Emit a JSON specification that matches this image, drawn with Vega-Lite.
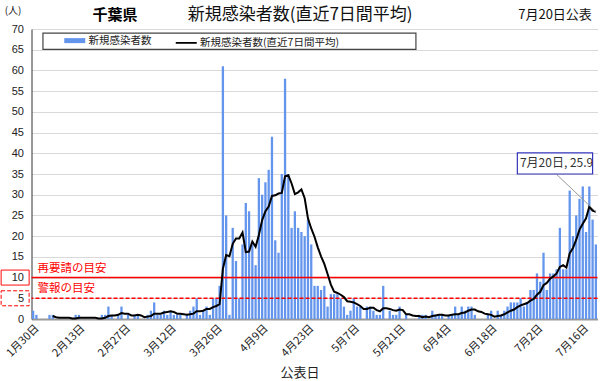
{
"$schema":"https://vega.github.io/schema/vega-lite/v6.json",
"width":566,"height":290,
"autosize":{"type":"none"},
"padding":{"left":31.5,"top":29,"right":2.5,"bottom":62},
"background":"white",
"config":{"view":{"stroke":null},"font":"Noto Sans CJK JP",
 "axisY":{"ticks":false,"labelPadding":8,"labelOverlap":false,"labelFontSize":11,"labelFont":"Liberation Sans","labelColor":"#222","domainColor":"#333","gridColor":"#d9d9d9","gridWidth":1,"titleAngle":0,"titleX":-19,"titleY":-19,"titleFontSize":10,"titleFontWeight":"normal","titleColor":"#222","titleAlign":"center","titleBaseline":"middle"}},
"datasets":{
"main":[
{"date":"1月30日","cases":2,"avg":null},{"date":"1月31日","cases":1,"avg":null},
{"date":"2月1日","cases":0,"avg":null},{"date":"2月2日","cases":0,"avg":null},{"date":"2月3日","cases":0,"avg":null},{"date":"2月4日","cases":1,"avg":null},{"date":"2月5日","cases":1,"avg":0.71},{"date":"2月6日","cases":0,"avg":0.43},{"date":"2月7日","cases":0,"avg":0.29},{"date":"2月8日","cases":0,"avg":0.29},{"date":"2月9日","cases":0,"avg":0.29},{"date":"2月10日","cases":0,"avg":0.29},{"date":"2月11日","cases":0,"avg":0.14},{"date":"2月12日","cases":1,"avg":0.14},{"date":"2月13日","cases":1,"avg":0.29},{"date":"2月14日","cases":0,"avg":0.29},{"date":"2月15日","cases":0,"avg":0.29},{"date":"2月16日","cases":0,"avg":0.29},{"date":"2月17日","cases":0,"avg":0.29},{"date":"2月18日","cases":0,"avg":0.29},{"date":"2月19日","cases":0,"avg":0.14},{"date":"2月20日","cases":1,"avg":0.14},{"date":"2月21日","cases":1,"avg":0.29},{"date":"2月22日","cases":3,"avg":0.71},{"date":"2月23日","cases":1,"avg":0.86},{"date":"2月24日","cases":0,"avg":0.86},{"date":"2月25日","cases":1,"avg":1.0},{"date":"2月26日","cases":3,"avg":1.43},{"date":"2月27日","cases":0,"avg":1.29},{"date":"2月28日","cases":1,"avg":1.29},{"date":"2月29日","cases":0,"avg":0.86},
{"date":"3月1日","cases":1,"avg":0.86},{"date":"3月2日","cases":1,"avg":1.0},{"date":"3月3日","cases":0,"avg":0.86},{"date":"3月4日","cases":0,"avg":0.43},{"date":"3月5日","cases":1,"avg":0.57},{"date":"3月6日","cases":2,"avg":0.71},{"date":"3月7日","cases":4,"avg":1.29},{"date":"3月8日","cases":1,"avg":1.29},{"date":"3月9日","cases":1,"avg":1.29},{"date":"3月10日","cases":2,"avg":1.57},{"date":"3月11日","cases":1,"avg":1.71},{"date":"3月12日","cases":2,"avg":1.86},{"date":"3月13日","cases":1,"avg":1.71},{"date":"3月14日","cases":1,"avg":1.29},{"date":"3月15日","cases":1,"avg":1.29},{"date":"3月16日","cases":0,"avg":1.14},{"date":"3月17日","cases":1,"avg":1.0},{"date":"3月18日","cases":2,"avg":1.14},{"date":"3月19日","cases":3,"avg":1.29},{"date":"3月20日","cases":5,"avg":1.86},{"date":"3月21日","cases":1,"avg":1.86},{"date":"3月22日","cases":2,"avg":2.0},{"date":"3月23日","cases":3,"avg":2.43},{"date":"3月24日","cases":1,"avg":2.43},{"date":"3月25日","cases":5,"avg":2.86},{"date":"3月26日","cases":5,"avg":3.14},{"date":"3月27日","cases":8,"avg":3.57},{"date":"3月28日","cases":61,"avg":12.14},{"date":"3月29日","cases":25,"avg":15.43},{"date":"3月30日","cases":1,"avg":15.14},{"date":"3月31日","cases":22,"avg":18.14},
{"date":"4月1日","cases":14,"avg":19.43},{"date":"4月2日","cases":5,"avg":19.43},{"date":"4月3日","cases":18,"avg":20.86},{"date":"4月4日","cases":28,"avg":16.14},{"date":"4月5日","cases":26,"avg":16.29},{"date":"4月6日","cases":18,"avg":18.71},{"date":"4月7日","cases":13,"avg":17.43},{"date":"4月8日","cases":34,"avg":20.29},{"date":"4月9日","cases":30,"avg":23.86},{"date":"4月10日","cases":33,"avg":26.0},{"date":"4月11日","cases":36,"avg":27.14},{"date":"4月12日","cases":44,"avg":29.71},{"date":"4月13日","cases":19,"avg":29.86},{"date":"4月14日","cases":16,"avg":30.29},{"date":"4月15日","cases":35,"avg":30.43},{"date":"4月16日","cases":58,"avg":34.43},{"date":"4月17日","cases":35,"avg":34.71},{"date":"4月18日","cases":22,"avg":32.71},{"date":"4月19日","cases":26,"avg":30.14},{"date":"4月20日","cases":22,"avg":30.57},{"date":"4月21日","cases":21,"avg":31.29},{"date":"4月22日","cases":20,"avg":29.14},{"date":"4月23日","cases":24,"avg":24.29},{"date":"4月24日","cases":18,"avg":21.86},{"date":"4月25日","cases":8,"avg":19.86},{"date":"4月26日","cases":8,"avg":17.29},{"date":"4月27日","cases":7,"avg":15.14},{"date":"4月28日","cases":8,"avg":13.29},{"date":"4月29日","cases":3,"avg":10.86},{"date":"4月30日","cases":6,"avg":8.29},
{"date":"5月1日","cases":6,"avg":6.57},{"date":"5月2日","cases":6,"avg":6.29},{"date":"5月3日","cases":5,"avg":5.86},{"date":"5月4日","cases":3,"avg":5.29},{"date":"5月5日","cases":1,"avg":4.29},{"date":"5月6日","cases":2,"avg":4.14},{"date":"5月7日","cases":5,"avg":4.0},{"date":"5月8日","cases":3,"avg":3.57},{"date":"5月9日","cases":3,"avg":3.14},{"date":"5月10日","cases":0,"avg":2.43},{"date":"5月11日","cases":3,"avg":2.43},{"date":"5月12日","cases":3,"avg":2.71},{"date":"5月13日","cases":2,"avg":2.71},{"date":"5月14日","cases":1,"avg":2.14},{"date":"5月15日","cases":1,"avg":1.86},{"date":"5月16日","cases":8,"avg":2.57},{"date":"5月17日","cases":0,"avg":2.57},{"date":"5月18日","cases":2,"avg":2.43},{"date":"5月19日","cases":1,"avg":2.14},{"date":"5月20日","cases":1,"avg":2.0},{"date":"5月21日","cases":3,"avg":2.29},{"date":"5月22日","cases":0,"avg":2.14},{"date":"5月23日","cases":1,"avg":1.14},{"date":"5月24日","cases":0,"avg":1.14},{"date":"5月25日","cases":0,"avg":0.86},{"date":"5月26日","cases":0,"avg":0.71},{"date":"5月27日","cases":1,"avg":0.71},{"date":"5月28日","cases":1,"avg":0.43},{"date":"5月29日","cases":1,"avg":0.57},{"date":"5月30日","cases":0,"avg":0.43},{"date":"5月31日","cases":2,"avg":0.71},
{"date":"6月1日","cases":1,"avg":0.86},{"date":"6月2日","cases":1,"avg":1.0},{"date":"6月3日","cases":1,"avg":1.0},{"date":"6月4日","cases":0,"avg":0.86},{"date":"6月5日","cases":1,"avg":0.86},{"date":"6月6日","cases":1,"avg":1.0},{"date":"6月7日","cases":3,"avg":1.14},{"date":"6月8日","cases":1,"avg":1.14},{"date":"6月9日","cases":3,"avg":1.43},{"date":"6月10日","cases":2,"avg":1.57},{"date":"6月11日","cases":3,"avg":2.0},{"date":"6月12日","cases":3,"avg":2.29},{"date":"6月13日","cases":1,"avg":2.29},{"date":"6月14日","cases":0,"avg":1.86},{"date":"6月15日","cases":0,"avg":1.71},{"date":"6月16日","cases":0,"avg":1.29},{"date":"6月17日","cases":1,"avg":1.14},{"date":"6月18日","cases":2,"avg":1.0},{"date":"6月19日","cases":0,"avg":0.57},{"date":"6月20日","cases":2,"avg":0.71},{"date":"6月21日","cases":1,"avg":0.86},{"date":"6月22日","cases":2,"avg":1.14},{"date":"6月23日","cases":3,"avg":1.57},{"date":"6月24日","cases":4,"avg":2.0},{"date":"6月25日","cases":4,"avg":2.29},{"date":"6月26日","cases":4,"avg":2.86},{"date":"6月27日","cases":5,"avg":3.29},{"date":"6月28日","cases":3,"avg":3.57},{"date":"6月29日","cases":4,"avg":3.86},{"date":"6月30日","cases":7,"avg":4.43},
{"date":"7月1日","cases":7,"avg":4.86},{"date":"7月2日","cases":11,"avg":5.86},{"date":"7月3日","cases":9,"avg":6.57},{"date":"7月4日","cases":16,"avg":8.14},{"date":"7月5日","cases":7,"avg":8.71},{"date":"7月6日","cases":11,"avg":9.71},{"date":"7月7日","cases":11,"avg":10.29},{"date":"7月8日","cases":12,"avg":11.0},{"date":"7月9日","cases":22,"avg":12.57},{"date":"7月10日","cases":12,"avg":13.0},{"date":"7月11日","cases":12,"avg":12.43},{"date":"7月12日","cases":31,"avg":15.86},{"date":"7月13日","cases":20,"avg":17.14},{"date":"7月14日","cases":25,"avg":19.14},{"date":"7月15日","cases":29,"avg":21.57},{"date":"7月16日","cases":32,"avg":23.0},{"date":"7月17日","cases":21,"avg":24.29},{"date":"7月18日","cases":32,"avg":27.14},{"date":"7月19日","cases":24,"avg":26.14},{"date":"7月20日","cases":18,"avg":25.86}
],
"th":[{"v":10,"label":"再要請の目安","kind":"再要請"},{"v":5,"label":"警報の目安","kind":"警報"}]
},
"layer":[
{"data":{"name":"main"},
 "mark":{"type":"bar"},
 "encoding":{
  "x":{"field":"date","type":"ordinal","sort":null,
   "scale":{"paddingInner":0.3,"paddingOuter":0.15,"domain":["1月30日","1月31日","2月1日","2月2日","2月3日","2月4日","2月5日","2月6日","2月7日","2月8日","2月9日","2月10日","2月11日","2月12日","2月13日","2月14日","2月15日","2月16日","2月17日","2月18日","2月19日","2月20日","2月21日","2月22日","2月23日","2月24日","2月25日","2月26日","2月27日","2月28日","2月29日","3月1日","3月2日","3月3日","3月4日","3月5日","3月6日","3月7日","3月8日","3月9日","3月10日","3月11日","3月12日","3月13日","3月14日","3月15日","3月16日","3月17日","3月18日","3月19日","3月20日","3月21日","3月22日","3月23日","3月24日","3月25日","3月26日","3月27日","3月28日","3月29日","3月30日","3月31日","4月1日","4月2日","4月3日","4月4日","4月5日","4月6日","4月7日","4月8日","4月9日","4月10日","4月11日","4月12日","4月13日","4月14日","4月15日","4月16日","4月17日","4月18日","4月19日","4月20日","4月21日","4月22日","4月23日","4月24日","4月25日","4月26日","4月27日","4月28日","4月29日","4月30日","5月1日","5月2日","5月3日","5月4日","5月5日","5月6日","5月7日","5月8日","5月9日","5月10日","5月11日","5月12日","5月13日","5月14日","5月15日","5月16日","5月17日","5月18日","5月19日","5月20日","5月21日","5月22日","5月23日","5月24日","5月25日","5月26日","5月27日","5月28日","5月29日","5月30日","5月31日","6月1日","6月2日","6月3日","6月4日","6月5日","6月6日","6月7日","6月8日","6月9日","6月10日","6月11日","6月12日","6月13日","6月14日","6月15日","6月16日","6月17日","6月18日","6月19日","6月20日","6月21日","6月22日","6月23日","6月24日","6月25日","6月26日","6月27日","6月28日","6月29日","6月30日","7月1日","7月2日","7月3日","7月4日","7月5日","7月6日","7月7日","7月8日","7月9日","7月10日","7月11日","7月12日","7月13日","7月14日","7月15日","7月16日","7月17日","7月18日","7月19日","7月20日"]},
   "axis":{"values":["1月30日","2月13日","2月27日","3月12日","3月26日","4月9日","4月23日","5月7日","5月21日","6月4日","6月18日","7月2日","7月16日"],
    "labelAngle":-45,"labelFontSize":11,"labelColor":"#222","labelPadding":3,"ticks":false,"grid":false,
    "domainColor":"#999","domainWidth":2,
    "title":"公表日","titleFontSize":13,"titleFontWeight":"normal","titleColor":"#222","titleX":268,"titleY":53,"titleBaseline":"middle","titleAnchor":null}},
  "y":{"field":"cases","type":"quantitative","title":"(人)","scale":{"domain":[0,70],"nice":false},
   "axis":{"values":[0,5,10,15,20,25,30,35,40,45,50,55,60,65,70],"tickCount":20}},
  "color":{"datum":"新規感染者数","type":"nominal",
   "scale":{"domain":["新規感染者数","新規感染者数(直近7日間平均)"],"range":["#6495ED","#000000"]},
   "legend":{"orient":"none","legendX":10.5,"legendY":6,"direction":"horizontal","title":null,
    "labelFontSize":10.5,"labelColor":"#222","labelFont":"Noto Sans CJK JP","labelLimit":400,
    "padding":0,"columnPadding":1.5,
    "symbolType":"stroke","symbolSize":100,"symbolOffset":27.5,"labelOffset":8.5,
    "encode":{"symbols":{"update":{
      "shape":{"value":"M-2.1,0H2.1"},
      "strokeWidth":{"signal":"datum.value === '新規感染者数' ? 5 : 1.8"},
      "stroke":{"signal":"datum.value === '新規感染者数' ? '#6495ED' : '#000000'"},
      "fill":{"value":"transparent"}}}}}}
 }},
{"data":{"values":[{"box":"legend"}]},
 "mark":{"type":"rect","fill":"white","stroke":"#444","strokeWidth":1.2},
 "encoding":{"x":{"datum":"2月2日","type":"ordinal","title":"公表日"},"x2":{"datum":"5月26日"},"y":{"datum":69.0,"type":"quantitative","title":"(人)","axis":{"values":[0,5,10,15,20,25,30,35,40,45,50,55,60,65,70],"tickCount":20}},"y2":{"datum":65.1}}},
{"data":{"name":"th"},
 "mark":{"type":"rule","color":"#FF0000","strokeWidth":1.5},
 "encoding":{"y":{"field":"v","type":"quantitative","title":"(人)","axis":{"values":[0,5,10,15,20,25,30,35,40,45,50,55,60,65,70],"tickCount":20}},
  "strokeDash":{"field":"kind","type":"nominal","scale":{"domain":["再要請","警報"],"range":[[1,0],[4,2]]},"legend":null}}},
{"data":{"name":"th"},
 "mark":{"type":"text","align":"left","baseline":"middle","dx":1,"dy":-9,"color":"#FF0000","fontSize":11.5},
 "encoding":{"x":{"datum":"1月31日","type":"ordinal","title":"公表日"},"y":{"field":"v","type":"quantitative","title":"(人)","axis":{"values":[0,5,10,15,20,25,30,35,40,45,50,55,60,65,70],"tickCount":20}},"text":{"field":"label"}}},
{"data":{"name":"th"},
 "mark":{"type":"point","shape":"M-6.4,-1.5H-0.8V1.5H-6.4Z","size":100,"filled":false,"color":"#FF0000","strokeWidth":1,"opacity":1},
 "encoding":{"x":{"datum":"1月30日","type":"ordinal","title":"公表日"},"y":{"field":"v","type":"quantitative","title":"(人)","axis":{"values":[0,5,10,15,20,25,30,35,40,45,50,55,60,65,70],"tickCount":20}},
  "strokeDash":{"field":"kind","type":"nominal","legend":null}}},
{"data":{"name":"main"},
 "mark":{"type":"line","strokeWidth":2},
 "encoding":{"x":{"field":"date","type":"ordinal","sort":null,"title":"公表日"},"y":{"field":"avg","type":"quantitative","title":"(人)","axis":{"values":[0,5,10,15,20,25,30,35,40,45,50,55,60,65,70],"tickCount":20}},
  "color":{"datum":"新規感染者数(直近7日間平均)","type":"nominal"}}},
{"data":{"values":[{"label":"7月20日, 25.9"}]},
 "mark":{"type":"rule","color":"#999999","strokeWidth":1},
 "encoding":{"x":{"datum":"7月8日","type":"ordinal","title":"公表日"},"x2":{"datum":"7月20日"},"y":{"datum":34.9,"type":"quantitative","title":"(人)","axis":{"values":[0,5,10,15,20,25,30,35,40,45,50,55,60,65,70],"tickCount":20}},"y2":{"datum":25.9}}},
{"data":{"values":[{"label":"7月20日, 25.9"}]},
 "mark":{"type":"rect","fill":"white","stroke":"#3333BB","strokeWidth":1.2},
 "encoding":{"x":{"datum":"6月26日","type":"ordinal","title":"公表日"},"x2":{"datum":"7月19日"},"y":{"datum":40.1,"type":"quantitative","title":"(人)","axis":{"values":[0,5,10,15,20,25,30,35,40,45,50,55,60,65,70],"tickCount":20}},"y2":{"datum":35.0}}},
{"data":{"values":[{"label":"7月20日, 25.9"}]},
 "mark":{"type":"text","fontSize":12,"color":"#333","align":"center","baseline":"middle"},
 "encoding":{"x":{"datum":"7月8日","type":"ordinal","title":"公表日"},"y":{"datum":37.6,"type":"quantitative","title":"(人)","axis":{"values":[0,5,10,15,20,25,30,35,40,45,50,55,60,65,70],"tickCount":20}},"text":{"field":"label"}}},
{"data":{"values":[{"t":"千葉県"}]},
 "mark":{"type":"text","fontSize":15,"fontWeight":"bold","color":"#000","align":"center","baseline":"middle"},
 "encoding":{"x":{"datum":"2月24日","type":"ordinal","title":"公表日"},"y":{"datum":73.4,"type":"quantitative","title":"(人)","axis":{"values":[0,5,10,15,20,25,30,35,40,45,50,55,60,65,70],"tickCount":20}},"text":{"field":"t"}}},
{"data":{"values":[{"t":"新規感染者数(直近7日間平均)"}]},
 "mark":{"type":"text","fontSize":17,"color":"#111","align":"center","baseline":"middle","dx":2},
 "encoding":{"x":{"datum":"4月20日","type":"ordinal","title":"公表日"},"y":{"datum":73.4,"type":"quantitative","title":"(人)","axis":{"values":[0,5,10,15,20,25,30,35,40,45,50,55,60,65,70],"tickCount":20}},"text":{"field":"t"}}},
{"data":{"values":[{"t":"7月20日公表"}]},
 "mark":{"type":"text","fontSize":13,"color":"#111","align":"right","baseline":"middle","dx":-4},
 "encoding":{"x":{"datum":"7月20日","type":"ordinal","title":"公表日"},"y":{"datum":73.4,"type":"quantitative","title":"(人)","axis":{"values":[0,5,10,15,20,25,30,35,40,45,50,55,60,65,70],"tickCount":20}},"text":{"field":"t"}}}
]
}
